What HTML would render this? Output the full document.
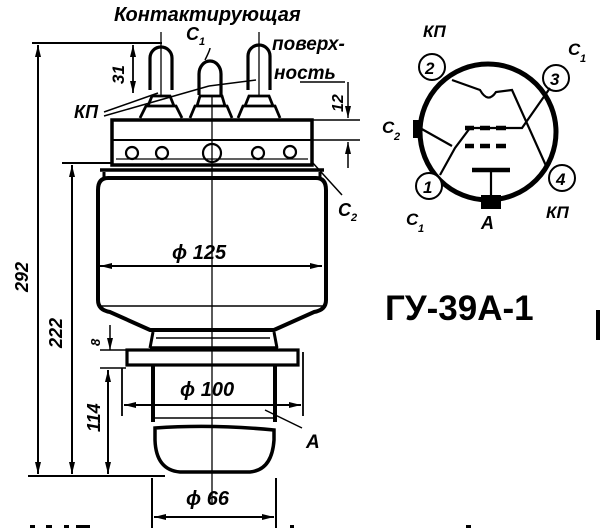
<!DOCTYPE html>
<html><head><meta charset="utf-8"><style>
html,body{margin:0;padding:0;background:#fff;}
svg{display:block;}
text{font-family:"Liberation Sans","DejaVu Sans",sans-serif;font-style:italic;font-weight:bold;fill:#000;}
</style></head><body>
<svg width="600" height="528" viewBox="0 0 600 528" xmlns="http://www.w3.org/2000/svg">
<defs>
<marker id="ar" viewBox="0 0 12 6" refX="12" refY="3" markerWidth="12" markerHeight="6" orient="auto-start-reverse" markerUnits="userSpaceOnUse"><path d="M0,0 L12,3 L0,6 z" fill="#000"/></marker>
</defs>
<g stroke="#000" fill="none">
<line x1="32" y1="43" x2="162" y2="43" stroke-width="2"/>
<line x1="38" y1="45" x2="38" y2="474" stroke-width="2" marker-start="url(#ar)" marker-end="url(#ar)"/>
<line x1="62" y1="163" x2="112" y2="163" stroke-width="2"/>
<line x1="72" y1="165" x2="72" y2="474" stroke-width="2" marker-start="url(#ar)" marker-end="url(#ar)"/>
<line x1="28" y1="476" x2="165" y2="476" stroke-width="2"/>
<line x1="100" y1="350" x2="126" y2="350" stroke-width="1.5"/>
<line x1="100" y1="368" x2="126" y2="368" stroke-width="1.5"/>
<line x1="110" y1="325" x2="110" y2="350" stroke-width="1.5" marker-end="url(#ar)"/>
<line x1="108" y1="370" x2="108" y2="474" stroke-width="2" marker-start="url(#ar)" marker-end="url(#ar)"/>
<line x1="133" y1="45" x2="133" y2="93" stroke-width="1.8" marker-start="url(#ar)" marker-end="url(#ar)"/>
<line x1="300" y1="82" x2="345" y2="82" stroke-width="1.5"/>
<line x1="312" y1="120" x2="360" y2="120" stroke-width="1.5"/>
<line x1="312" y1="140" x2="360" y2="140" stroke-width="1.5"/>
<line x1="348" y1="82" x2="348" y2="118" stroke-width="1.5" marker-end="url(#ar)"/>
<line x1="348" y1="168" x2="348" y2="142" stroke-width="1.5" marker-end="url(#ar)"/>
<line x1="212" y1="95" x2="212" y2="505" stroke-width="1.3"/>
<path d="M150,90 V58 A11,11 0 0 1 172,58 V90" stroke-width="3.2"/>
<path d="M199,95 V74 A11,13 0 0 1 221,74 V95" stroke-width="3.2"/>
<path d="M248,90 V56 A11,11 0 0 1 270,56 V90" stroke-width="3.2"/>
<line x1="161" y1="32" x2="161" y2="95" stroke-width="1.3"/>
<line x1="259" y1="32" x2="259" y2="95" stroke-width="1.3"/>
<path d="M205,60 q5,-10 5,-12" stroke-width="1.5"/>
<path d="M140,118 L146,106 H176 L182,118 M148,106 L152,96 H170 L174,106" stroke-width="2.8"/>
<path d="M190,118 L195,106 H227 L232,118 M197,106 L200,96 H222 L225,106" stroke-width="2.8"/>
<path d="M238,118 L243,106 H275 L280,118 M245,106 L249,96 H269 L273,106" stroke-width="2.8"/>
<path d="M104,112 L158,93 M104,116 L209,86 M209,86 L256,80" stroke-width="1.5"/>
<rect x="112" y="120" width="200" height="45" stroke-width="3.5"/>
<line x1="112" y1="140" x2="312" y2="140" stroke-width="2"/>
<line x1="116" y1="159" x2="308" y2="159" stroke-width="1.3"/>
<g stroke-width="2.2">
<circle cx="132" cy="153" r="6"/><circle cx="162" cy="153" r="6"/><circle cx="212" cy="153" r="9"/><circle cx="258" cy="153" r="6"/><circle cx="290" cy="152" r="6"/>
</g>
<line x1="312" y1="162" x2="342" y2="195" stroke-width="1.5"/>
<path d="M100,170 H324" stroke-width="3.5"/>
<path d="M104,172 V180 M320,172 V180" stroke-width="3"/>
<path d="M108,178 Q98,178 98,190 V300 Q98,310 110,312 L150,330 H274 L314,312 Q326,310 326,300 V190 Q326,178 316,178 Z" stroke-width="4"/>
<line x1="100" y1="306" x2="324" y2="306" stroke-width="1.5"/>
<line x1="100" y1="266" x2="322" y2="266" stroke-width="2" marker-start="url(#ar)" marker-end="url(#ar)"/>
<path d="M153,332 L150,348 M274,332 L277,348" stroke-width="3"/>
<line x1="156" y1="338" x2="270" y2="338" stroke-width="1.5"/>
<line x1="150" y1="348" x2="278" y2="348" stroke-width="3.5"/>
<rect x="127" y="350" width="171" height="15" stroke-width="3.2"/>
<line x1="303" y1="352" x2="303" y2="416" stroke-width="1.8"/>
<line x1="122" y1="368" x2="122" y2="416" stroke-width="1.8"/>
<path d="M153,366 V422 M275,366 V422" stroke-width="4"/>
<line x1="153" y1="418" x2="275" y2="418" stroke-width="1.5"/>
<line x1="124" y1="405" x2="301" y2="405" stroke-width="2" marker-start="url(#ar)" marker-end="url(#ar)"/>
<line x1="265" y1="410" x2="302" y2="428" stroke-width="1.5"/>
<path d="M155,428 Q212,424 274,430 L274,440 Q272,470 250,472 H180 Q156,470 155,440 Z" stroke-width="3.5"/>
<line x1="152" y1="478" x2="152" y2="528" stroke-width="2"/>
<line x1="276" y1="478" x2="276" y2="528" stroke-width="2"/>
<line x1="154" y1="517" x2="274" y2="517" stroke-width="2" marker-start="url(#ar)" marker-end="url(#ar)"/>
<circle cx="488" cy="132" r="68" stroke-width="5"/>
<circle cx="432" cy="67" r="13" fill="#fff" stroke-width="2"/>
<circle cx="556" cy="78" r="13" fill="#fff" stroke-width="2"/>
<circle cx="429" cy="186" r="13" fill="#fff" stroke-width="2"/>
<circle cx="562" cy="178" r="13" fill="#fff" stroke-width="2"/>
<path d="M452,80 L480,90 Q488,104 496,92 L512,90 L547,168" stroke-width="2.2"/>
<path d="M550,88 L522,128 H470 L455,148 L440,175" stroke-width="2.2"/>
<path d="M420,128 L452,146" stroke-width="2.2"/>
<g stroke-width="4.5">
<path d="M465,128 H474 M480,128 H490 M496,128 H506"/>
<path d="M465,146 H474 M480,146 H490 M496,146 H506"/>
<path d="M472,170 H510"/>
</g>
<line x1="491" y1="170" x2="491" y2="196" stroke-width="2.2"/>
</g>
<rect x="413" y="120" width="9" height="18" fill="#000"/>
<rect x="481" y="195" width="20" height="14" fill="#000"/>
<rect x="596" y="310" width="4" height="30" fill="#000"/>
<g fill="#000">
<rect x="30" y="525" width="5" height="3"/><rect x="46" y="525" width="6" height="3"/><rect x="64" y="525" width="5" height="3"/><rect x="76" y="525" width="14" height="3"/>
<rect x="290" y="525" width="4" height="3"/><rect x="466" y="525" width="5" height="3"/>
</g>
<text x="114" y="21" font-size="20">Контактирующая</text>
<text x="272" y="50" font-size="19">поверх-</text>
<text x="274" y="79" font-size="19">ность</text>
<text x="186" y="40" font-size="18">C</text><text x="199" y="45" font-size="11">1</text>
<text x="74" y="118" font-size="18">КП</text>
<text x="338" y="216" font-size="18">C</text><text x="351" y="221" font-size="11">2</text>
<text x="172" y="259" font-size="20">ϕ 125</text>
<text x="180" y="396" font-size="20">ϕ 100</text>
<text x="186" y="505" font-size="20">ϕ 66</text>
<text x="306" y="448" font-size="19">A</text>
<text transform="translate(28,292) rotate(-90)" font-size="18">292</text>
<text transform="translate(62,348) rotate(-90)" font-size="18">222</text>
<text transform="translate(100,432) rotate(-90)" font-size="18">114</text>
<text transform="translate(100,346) rotate(-90)" font-size="13">8</text>
<text transform="translate(124,84) rotate(-90)" font-size="17">31</text>
<text transform="translate(343,112) rotate(-90)" font-size="16">12</text>
<text x="423" y="37" font-size="17">КП</text>
<text x="425" y="74" font-size="17" font-weight="normal">2</text>
<text x="550" y="85" font-size="17" font-weight="normal">3</text>
<text x="423" y="193" font-size="17" font-weight="normal">1</text>
<text x="556" y="185" font-size="17" font-weight="normal">4</text>
<text x="568" y="55" font-size="17">C</text><text x="580" y="62" font-size="11">1</text>
<text x="382" y="133" font-size="17">C</text><text x="394" y="140" font-size="11">2</text>
<text x="406" y="225" font-size="17">C</text><text x="418" y="232" font-size="11">1</text>
<text x="481" y="229" font-size="18">A</text>
<text x="546" y="218" font-size="17">КП</text>
<text x="385" y="320" font-size="35" style="font-style:normal">ГУ-39А-1</text>
</svg>
</body></html>
